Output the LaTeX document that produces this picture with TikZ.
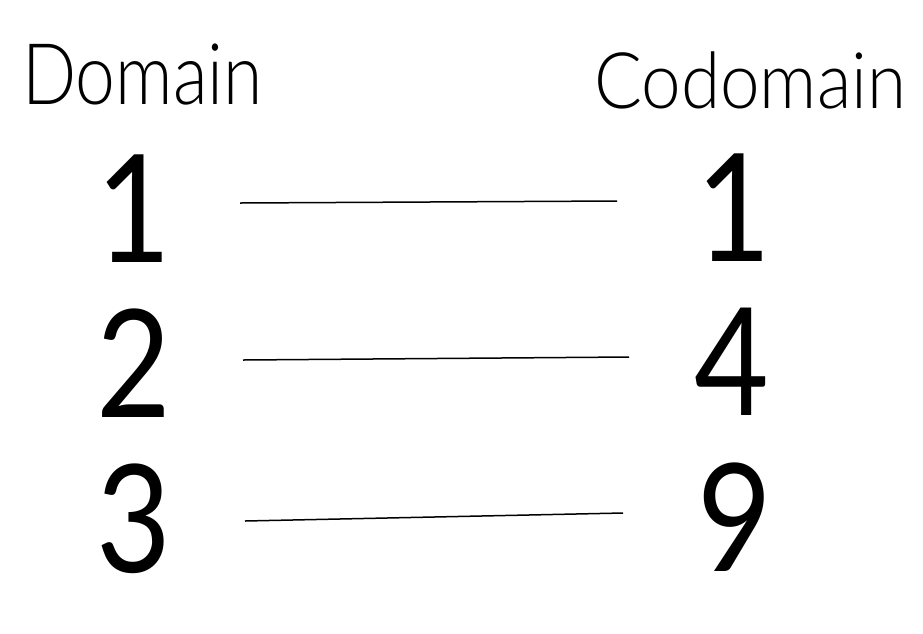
\documentclass[tikz,border=0pt]{standalone}
\usepackage{fontspec}
\setmainfont{Lato}
\newfontfamily\domfont{Lato}[UprightFont=* Light, FakeStretch=0.84]
\newfontfamily\codfont{Lato}[UprightFont=* Light, FakeStretch=0.91]
\newfontfamily\digfont{Lato}[FakeStretch=0.86]
\begin{document}
\begin{tikzpicture}[x=1pt,y=-1pt,
  lbl/.style={anchor=base west,inner sep=0pt},
  dig/.style={anchor=base,inner sep=0pt,font=\digfont\fontsize{150}{180}\selectfont},
  conn/.style={line width=1.5pt,black}]
\useasboundingbox (0,0) rectangle (923,633);
\node[lbl,font=\domfont\fontsize{85}{100}\selectfont] (dom) at (22,104) {Domain};
\node[lbl,font=\codfont\fontsize{78}{94}\selectfont] (cod) at (594,108) {Codomain};
\node[dig] (a1) at (134,262) {1};
\node[dig] (a2) at (134,417) {2};
\node[dig] (a3) at (134,572) {3};
\node[dig] (b1) at (734,261) {1};
\node[dig] (b2) at (732,415) {4};
\node[dig] (b3) at (735,571) {9};
\coordinate (l1s) at (240,203); \coordinate (l1e) at (617,201);
\coordinate (l2s) at (243,360); \coordinate (l2e) at (629,357);
\coordinate (l3s) at (245,521); \coordinate (l3e) at (623,513);
\draw[conn] (l1s) -- (l1e);
\draw[conn] (l2s) -- (l2e);
\draw[conn] (l3s) -- (l3e);
\end{tikzpicture}
\end{document}
